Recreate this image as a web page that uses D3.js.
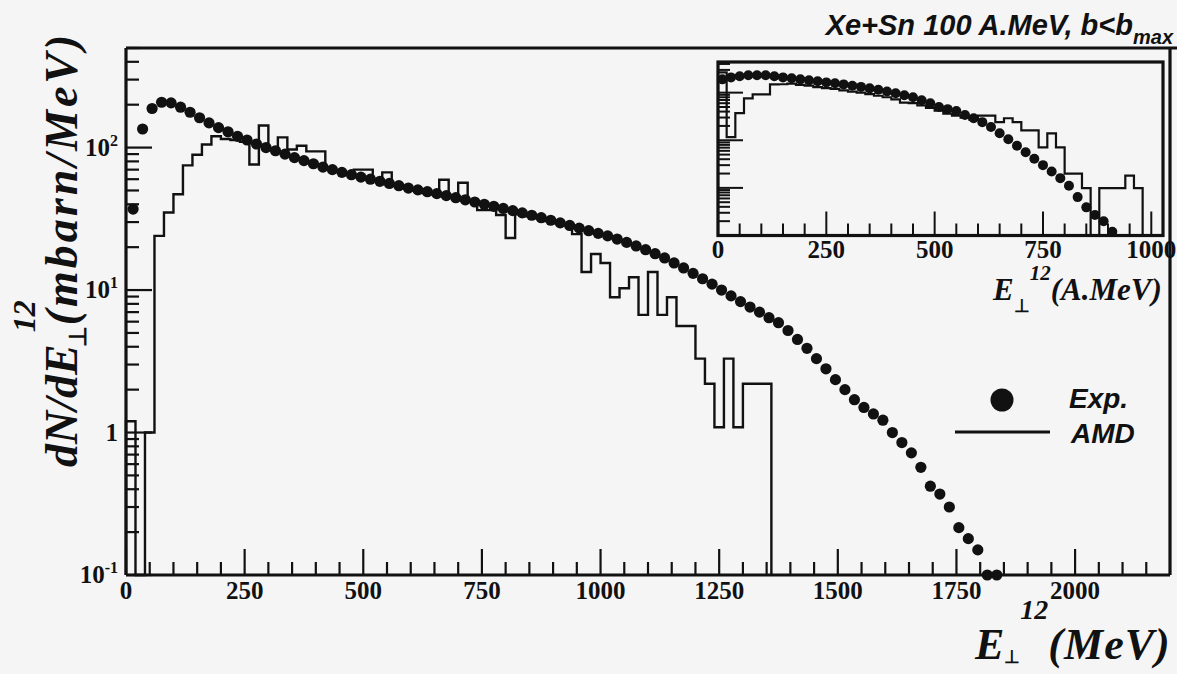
<!DOCTYPE html>
<html><head><meta charset="utf-8">
<script src="https://cdnjs.cloudflare.com/ajax/libs/d3/7.8.5/d3.min.js"></script>
<style>body{margin:0;background:#f5f5f5;} svg{display:block}</style>
</head><body><svg id="c" width="1177" height="674"></svg>
<script>
// ---------- DATA ----------
// Main panel: experimental points (E12_perp in MeV, dN/dE in mbarn/MeV)
const expE = [15,35,55,75,95,115,135,155,175,195,
  215,235,255,275,295,315,335,355,375,395,
  415,435,455,475,495,515,535,555,575,595,
  615,635,655,675,695,715,735,755,775,795,
  815,835,855,875,895,915,935,955,975,995,
  1015,1035,1055,1075,1095,1115,1135,1155,1175,1195,
  1215,1235,1255,1275,1295,1315,1335,1355,1375,1395,
  1415,1435,1455,1475,1495,1515,1535,1555,1575,1595,
  1615,1635,1655,1675,1695,1715,1735,1755,1775,1795,
  1815,1835];
const expV = [37,135,188,208,206,192,177,162,149,138,
  129,120,113,106,100,95,90,85,81,77,
  73,70,67,64.5,62,60,58,56,54,52,
  50.5,49,47.5,46,44.5,43,41.5,40,38.7,37.4,
  36.1,34.8,33.5,32.2,30.9,29.6,28.4,27.2,26.1,25.0,
  24.0,22.8,21.6,20.4,19.2,18.0,16.8,15.5,14.3,13.1,
  12.0,11.0,10.0,9.1,8.3,7.6,7.0,6.4,5.9,5.2,
  4.5,3.9,3.3,2.8,2.35,2.0,1.7,1.5,1.35,1.22,
  1.0,0.85,0.72,0.57,0.42,0.37,0.30,0.215,0.18,0.15,
  0.1,0.1];
// Main panel: AMD histogram, 20 MeV bins starting at 0
const amdBinWidth = 20;
const amdV = [1.2,0,1.0,24,35,47,75,89,105,120,
  115,113,110,76,143,98,118,97,103,94,
  94,72,68,66,70,70,60,67,54,52,
  50,48,47,59.5,46,56.7,42,36.4,36.4,33.6,
  23.2,34,33,32,30.5,29.5,28.5,24.7,13.4,17.9,
  15.5,8.9,10.3,12.3,6.7,13.4,6.7,8.9,5.6,5.6,
  3.3,2.2,1.09,3.3,1.09,2.2,2.2,2.2];

// Inset: experimental points (E12_perp in A.MeV, arbitrary units)
const insExpE = [10,30,50,70,90,110,130,150,170,190,
  210,230,250,270,290,310,330,350,370,390,
  410,430,450,470,490,510,530,550,570,590,
  610,630,650,670,690,710,730,750,770,790,
  810,830,850,870,890,910];
const insExpV = [1.90,2.09,2.20,2.31,2.31,2.31,2.20,2.09,2.00,1.90,
  1.81,1.73,1.64,1.57,1.49,1.39,1.32,1.23,1.15,1.06,
  0.97,0.88,0.80,0.69,0.60,0.50,0.45,0.41,0.34,0.29,
  0.24,0.19,0.14,0.105,0.077,0.056,0.041,0.030,0.022,0.016,
  0.0111,0.0064,0.0039,0.0027,0.0020,0.0012];
// Inset: AMD histogram, 20 A.MeV bins starting at 0
const insBinWidth = 20;
const insAmdV = [2.67,0.116,0.37,0.76,0.92,0.92,1.49,1.5,1.55,1.45,
  1.4,1.3,1.25,1.2,1.12,1.05,1.0,0.93,0.86,0.8,
  0.72,0.62,0.6,0.54,0.48,0.42,0.36,0.33,0.3,0.27,
  0.33,0.33,0.24,0.29,0.24,0.162,0.162,0.071,0.14,0.071,
  0.020,0.020,0.0099,0,0.0099,0.0099,0.0099,0.018,0.0099];

// Tick values / labels
const xTickValues = [0,250,500,750,1000,1250,1500,1750,2000];
const xTickLabels = ["0","250","500","750","1000","1250","1500","1750","2000"];
const yTickValues = [0.1,1,10,100];
const yTickBase = ["10","1","10","10"];
const yTickExp = ["-1","","1","2"];
const insXTickValues = [0,250,500,750,1000];
const insXTickLabels = ["0","250","500","750","1000"];
const insYDecades = [0.001,0.01,0.1,1];

// ---------- DRAW ----------
const INK = "#111";
const svg = d3.select("#c");
svg.append("rect").attr("width",1177).attr("height",674).attr("fill","#f5f5f5");

const x = d3.scaleLinear().domain([0,2200]).range([126,1170]);
const y = d3.scaleLog().domain([0.1,500]).range([575,48]);
const yBot = y.range()[0], yTop = y.range()[1];

const serif = '"Liberation Serif","Times New Roman",serif';
const sans = '"Liberation Sans",Arial,sans-serif';

function histPoints(vals, w, xs, ys, floorV){
  const pts = [[xs(0), ys(floorV)]];
  vals.forEach((v,i)=>{
    const yy = v>0 ? ys(v) : ys(floorV);
    pts.push([xs(i*w), yy]); pts.push([xs((i+1)*w), yy]);
  });
  pts.push([xs(vals.length*w), ys(floorV)]);
  return pts;
}
// Main histogram
svg.append("path")
  .attr("d", d3.line()(histPoints(amdV, amdBinWidth, x, y, 0.1)))
  .attr("fill","none").attr("stroke",INK).attr("stroke-width",2.4);

// Main points
svg.append("g").selectAll("circle").data(expE).join("circle")
  .attr("cx",(d)=>x(d)).attr("cy",(d,i)=>y(expV[i])).attr("r",5.6).attr("fill",INK);

// Main ticks
const gT = svg.append("g").attr("stroke",INK).attr("stroke-width",2.2);
const xMinor = d3.range(50,2200,50).filter(v=>v%250!==0);
gT.selectAll(".xmaj").data(xTickValues).join("line").attr("class","xmaj")
  .attr("x1",d=>x(d)).attr("x2",d=>x(d)).attr("y1",yBot).attr("y2",yBot-26);
gT.selectAll(".xmin").data(xMinor).join("line").attr("class","xmin")
  .attr("x1",d=>x(d)).attr("x2",d=>x(d)).attr("y1",yBot).attr("y2",yBot-13);
const yMinor = [];
yTickValues.forEach(d=>{ for(let k=2;k<=9;k++){ if(k*d<=500) yMinor.push(k*d);} });
gT.selectAll(".ymaj").data(yTickValues).join("line").attr("class","ymaj")
  .attr("x1",x(0)).attr("x2",x(0)+26).attr("y1",d=>y(d)).attr("y2",d=>y(d));
gT.selectAll(".ymin").data(yMinor).join("line").attr("class","ymin")
  .attr("x1",x(0)).attr("x2",x(0)+13).attr("y1",d=>y(d)).attr("y2",d=>y(d));

// Main frame
const gF = svg.append("g").attr("stroke",INK).attr("stroke-width",3.2).attr("fill","none");
gF.append("line").attr("x1",x(0)).attr("x2",x(0)).attr("y1",yTop).attr("y2",yBot);
gF.append("line").attr("x1",x(0)).attr("x2",x(2200)).attr("y1",yBot).attr("y2",yBot);
gF.append("line").attr("x1",x(2200)).attr("x2",x(2200)).attr("y1",yTop).attr("y2",yBot);
gF.append("line").attr("x1",x(0)).attr("x2",1177).attr("y1",yTop).attr("y2",yTop);

// Main tick labels
svg.append("g").selectAll("text").data(xTickValues).join("text")
  .attr("x",d=>x(d)).attr("y",yBot+24).attr("text-anchor","middle")
  .style("font",`bold 25px ${serif}`).attr("fill",INK)
  .text((d,i)=>xTickLabels[i]);
const yl = svg.append("g").selectAll("text").data(yTickValues).join("text")
  .attr("x",118).attr("y",d=>y(d)+8).attr("text-anchor","end")
  .style("font",`bold 25px ${serif}`).attr("fill",INK);
yl.append("tspan").text((d,i)=>yTickBase[i]);
yl.append("tspan").attr("dy",-10).style("font-size","16px").text((d,i)=>yTickExp[i]);

// Y axis label (rotated, one text element with shifted parts)
const ylab = svg.append("text").attr("transform","translate(77,467) rotate(-90)")
  .attr("fill",INK).style("font",`italic bold 46px ${serif}`);
ylab.append("tspan").text("dN/dE");
ylab.append("tspan").attr("dx",-3).attr("dy",9).style("font-size","24px").style("font-style","normal").text("\u22A5");
ylab.append("tspan").attr("dx",-6).attr("dy",-51).style("font-size","32px").text("12");
ylab.append("tspan").attr("dx",-25).attr("dy",42).attr("letter-spacing","3px").text("(mbarn/MeV)");

// X axis label (one text element, parts laid out side by side)
const xlab = svg.append("text").attr("x",975).attr("y",659).attr("fill",INK)
  .style("font",`italic bold 44px ${serif}`);
xlab.append("tspan").text("E");
xlab.append("tspan").attr("dy",4).style("font-size","18px").style("font-style","normal").text("\u22A5");
xlab.append("tspan").attr("dy",-44).style("font-size","28px").text("12");
xlab.append("tspan").attr("dy",40).attr("letter-spacing","1px").text("(MeV)");

// Title
const tt = svg.append("text").attr("x",1173).attr("y",35).attr("text-anchor","end")
  .style("font",`italic bold 29px ${sans}`).attr("fill",INK);
tt.append("tspan").text("Xe+Sn 100 A.MeV, b<b");
tt.append("tspan").attr("dy",9).style("font-size","20px").text("max");

// Legend
svg.append("circle").attr("cx",1002).attr("cy",400).attr("r",11.5).attr("fill",INK);
svg.append("text").attr("x",1069).attr("y",408).style("font",`italic bold 28px ${sans}`).attr("fill",INK).text("Exp.");
svg.append("line").attr("x1",955).attr("x2",1050).attr("y1",432).attr("y2",432).attr("stroke",INK).attr("stroke-width",3.2);
svg.append("text").attr("x",1071).attr("y",443).style("font",`italic bold 28px ${sans}`).attr("fill",INK).text("AMD");

// ---------- INSET ----------
const xi = d3.scaleLinear().domain([0,1027]).range([718,1163]);
const yi = d3.scaleLog().domain([0.001,4.4]).range([235.5,62]);
const iBot = yi.range()[0], iTop = yi.range()[1];
svg.append("rect").attr("x",xi(0)).attr("y",iTop).attr("width",xi(1027)-xi(0)).attr("height",iBot-iTop)
  .attr("fill","#f5f5f5");
svg.append("path")
  .attr("d", d3.line()(histPoints(insAmdV, insBinWidth, xi, yi, 0.001)))
  .attr("fill","none").attr("stroke",INK).attr("stroke-width",2.2);
svg.append("g").selectAll("circle").data(insExpE).join("circle")
  .attr("cx",d=>xi(d)).attr("cy",(d,i)=>yi(insExpV[i])).attr("r",5).attr("fill",INK);
const gI = svg.append("g").attr("stroke",INK).attr("stroke-width",2);
const ixMinor = d3.range(50,1027,50).filter(v=>v%250!==0);
gI.selectAll(".a").data(insXTickValues).join("line").attr("class","a")
  .attr("x1",d=>xi(d)).attr("x2",d=>xi(d)).attr("y1",iBot).attr("y2",iBot-24);
gI.selectAll(".b").data(ixMinor).join("line").attr("class","b")
  .attr("x1",d=>xi(d)).attr("x2",d=>xi(d)).attr("y1",iBot).attr("y2",iBot-12);
const iyMinor = [];
insYDecades.forEach(d=>{ for(let k=2;k<=9;k++){ if(k*d<=4.4) iyMinor.push(k*d);} });
gI.selectAll(".c").data(insYDecades).join("line").attr("class","c")
  .attr("x1",xi(0)).attr("x2",xi(0)+25).attr("y1",d=>yi(d)).attr("y2",d=>yi(d));
gI.selectAll(".d").data(iyMinor).join("line").attr("class","d")
  .attr("x1",xi(0)).attr("x2",xi(0)+12).attr("y1",d=>yi(d)).attr("y2",d=>yi(d));
svg.append("rect").attr("x",xi(0)).attr("y",iTop).attr("width",xi(1027)-xi(0)).attr("height",iBot-iTop)
  .attr("fill","none").attr("stroke",INK).attr("stroke-width",3.2);
svg.append("g").selectAll("text").data(insXTickValues).join("text")
  .attr("x",d=>xi(d)).attr("y",iBot+22).attr("text-anchor","middle")
  .style("font",`bold 25px ${serif}`).attr("fill",INK).text((d,i)=>insXTickLabels[i]);
const ilab = svg.append("text").attr("x",993).attr("y",300).attr("fill",INK)
  .style("font",`italic bold 31px ${serif}`);
ilab.append("tspan").text("E");
ilab.append("tspan").attr("dy",12).style("font-size","18px").style("font-style","normal").text("\u22A5");
ilab.append("tspan").attr("dy",-32).style("font-size","21px").text("12");
ilab.append("tspan").attr("dy",20).text("(A.MeV)");
</script>
</body></html>
